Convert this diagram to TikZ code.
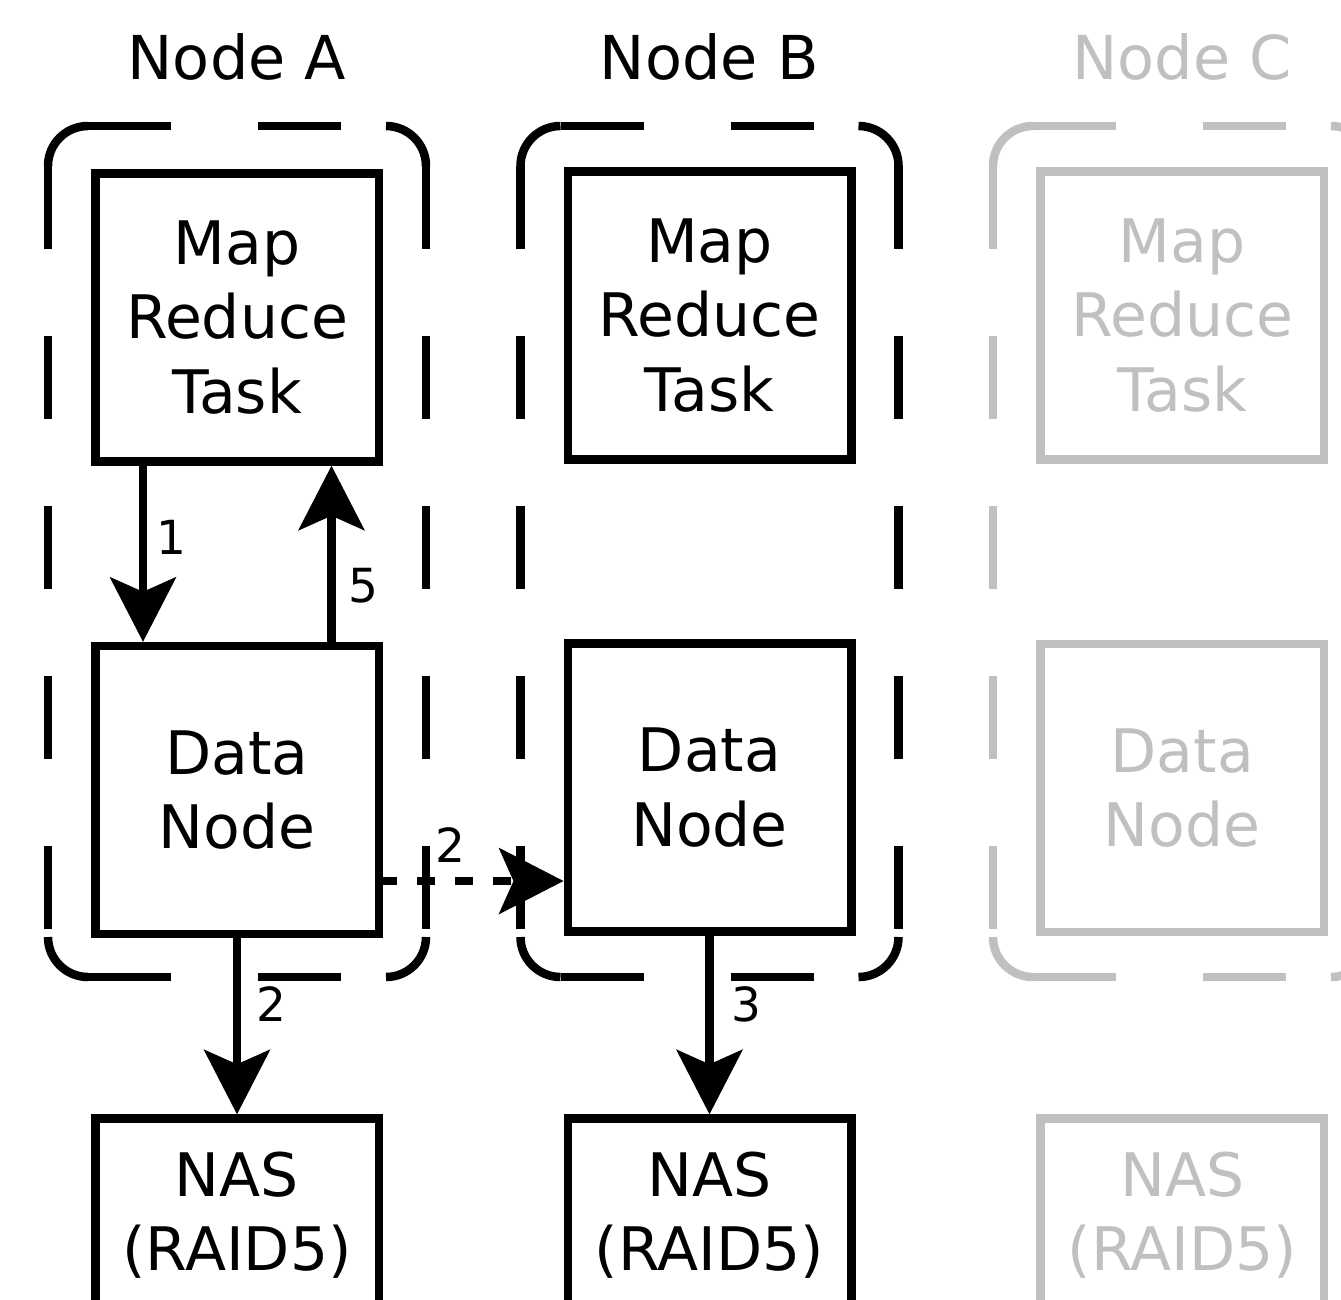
\documentclass[tikz,border=0pt]{standalone}
\usepackage{fontspec}
\setmainfont{DejaVu Sans}
\usetikzlibrary{arrows.meta}
\definecolor{fadegrey}{HTML}{C0C0C0}
\begin{document}
\begin{tikzpicture}[x=1pt,y=-1pt,
  every node/.style={inner sep=0pt},
  box/.style={draw, line width=8.5pt, minimum width=283.5pt, minimum height=288pt, align=center, font=\fontsize{60}{74.7}\selectfont},
  nasbox/.style={box, minimum height=0pt, inner ysep=33pt, text depth=250pt, anchor=north},
  coltitle/.style={font=\fontsize{60.5}{72}\selectfont, anchor=base},
  lbl/.style={font=\fontsize{47}{56}\selectfont},
  faded/.style={draw=fadegrey, text=fadegrey},
  conn/.style={line width=8.5pt, -{Stealth[length=65pt, width=67pt, inset=15pt, line width=0pt]}},
  dotconn/.style={conn, dash pattern=on 18pt off 20pt, dash phase=4pt},
  cframe/.style={line width=8.5pt},
]
\useasboundingbox (0,0) rectangle (1341,1299);
\clip (0,0) rectangle (1341,1299);
\fill[white] (0,0) rectangle (1341,1299);

% dashed node containers
\foreach \lx/\col in {48/black, 520.5/black, 993/fadegrey} {
  \pgfmathsetmacro\rx{\lx+378}
  \begin{scope}[cframe, draw=\col]
    \draw[rounded corners=40pt] (\lx,166) |- (\lx+40,126);
    \draw[rounded corners=40pt] (\rx-40,126) -| (\rx,166);
    \draw[rounded corners=40pt] (\lx,937) |- (\lx+40,977);
    \draw[rounded corners=40pt] (\rx-40,977) -| (\rx,937);
    \draw[dash pattern=on 83pt off 87pt] (\lx+40,126) -- (\rx-40,126);
    \draw[dash pattern=on 83pt off 87pt] (\lx+40,977) -- (\rx-40,977);
    \draw[dash pattern=on 83pt off 87pt] (\lx,166) -- (\lx,937);
    \draw[dash pattern=on 83pt off 87pt] (\rx,166) -- (\rx,937);
  \end{scope}
}

% titles
\node[coltitle] (tA) at (237,79.3) {Node A};
\node[coltitle] (tB) at (709.25,79.3) {Node B};
\node[coltitle, text=fadegrey] (tC) at (1182,79.3) {Node C};

% boxes
\node[box] (mapA) at (237,317.5) {Map\\Reduce\\Task};
\node[box] (dataA) at (237,790) {Data\\Node};
\node[nasbox] (nasA) at (237,1114.25) {NAS\\(RAID5)};

\node[box] (mapB) at (709.5,315.5) {Map\\Reduce\\Task};
\node[box] (dataB) at (709.5,787.5) {Data\\Node};
\node[nasbox] (nasB) at (709.5,1114.25) {NAS\\(RAID5)};

\node[box, faded] (mapC) at (1182.25,315.5) {Map\\Reduce\\Task};
\node[box, faded] (dataC) at (1182.25,788) {Data\\Node};
\node[nasbox, faded] (nasC) at (1182.25,1114.25) {NAS\\(RAID5)};

% connectors
\draw[conn] ([xshift=-94pt]mapA.south) -- ([xshift=-94pt]dataA.north);
\draw[conn] ([xshift=94.5pt]dataA.north) -- ([xshift=94.5pt]mapA.south);
\draw[dotconn] ([yshift=-91pt]dataA.east) -- ([yshift=-91pt]dataA.east -| dataB.west);
\draw[conn] (dataA.south) -- (nasA.north);
\draw[conn] (dataB.south) -- (nasB.north);

% connector labels
\node[lbl] (l1) at (171,537) {1};
\node[lbl] (l5) at (363,586) {5};
\node[lbl] (l2a) at (450,845) {2};
\node[lbl] (l2b) at (271,1004.5) {2};
\node[lbl] (l3) at (746,1004) {3};
\end{tikzpicture}
\end{document}
